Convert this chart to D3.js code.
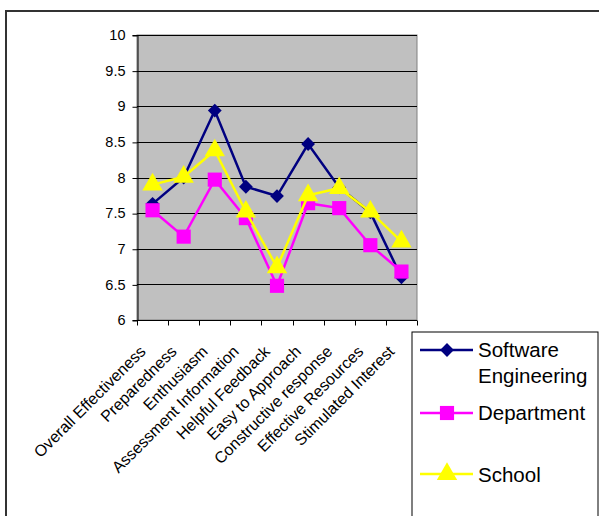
<!DOCTYPE html>
<html><head><meta charset="utf-8">
<script src="https://cdn.jsdelivr.net/npm/d3@7"></script>
<style>body{margin:0;background:#fff}svg{display:block}text{font-family:"Liberation Sans",Arial,sans-serif}</style>
</head><body><svg id="c" width="599" height="516"></svg>
<script>
const categories = ["Overall Effectiveness","Preparedness","Enthusiasm","Assessment Information","Helpful Feedback","Easy to Approach","Constructive response","Effective Resources","Stimulated Interest"];
const softwareEngineering = [7.63, 8.0, 8.94, 7.87, 7.74, 8.47, 7.86, 7.51, 6.60];
const department = [7.54, 7.17, 7.97, 7.43, 6.48, 7.64, 7.57, 7.05, 6.68];
const school = [7.90, 8.01, 8.38, 7.52, 6.74, 7.75, 7.85, 7.52, 7.10];
const yTicks = [6, 6.5, 7, 7.5, 8, 8.5, 9, 9.5, 10];
const seriesNames = ["Software Engineering", "Department", "School"];

const svg = d3.select("#c");
const L = 137, R = 417, T = 35, B = 320;
// outer border
svg.append("rect").attr("x",6).attr("y",11).attr("width",620).attr("height",540)
  .attr("fill","#fff").attr("stroke","#333").attr("stroke-width",2);

const x = d3.scaleBand().domain(categories).range([L,R]).padding(0);
const y = d3.scaleLinear().domain([6,10]).range([B,T]);

svg.append("rect").attr("x",L).attr("y",T).attr("width",R-L).attr("height",B-T)
  .attr("fill","#C0C0C0").attr("stroke","#808080").attr("stroke-width",1);

// gridlines
svg.append("g").selectAll("line").data(yTicks.filter(v=>v>6)).join("line")
  .attr("x1",L).attr("x2",R).attr("y1",d=>Math.round(y(d))+0.5).attr("y2",d=>Math.round(y(d))+0.5)
  .attr("stroke","#000").attr("stroke-width",1);

// y axis
const ya = svg.append("g").attr("transform",`translate(${L+0.5},0)`)
  .call(d3.axisLeft(y).tickValues(yTicks).tickSize(5).tickPadding(7).tickFormat(d=>String(d)));
ya.select(".domain").attr("stroke","#000");
ya.selectAll("text").attr("font-size",14.5).attr("fill","#000");
ya.selectAll("line").attr("transform","translate(0,0.5)");

// x axis
const xa = svg.append("g").attr("transform",`translate(0,${B+0.5})`);
xa.append("line").attr("x1",L).attr("x2",R).attr("stroke","#000");
const bounds = categories.map(c=>x(c)).concat([R]);
xa.selectAll("line.tk").data(bounds).join("line").attr("class","tk")
  .attr("x1",d=>Math.round(d)+0.5).attr("x2",d=>Math.round(d)+0.5).attr("y1",0).attr("y2",5).attr("stroke","#000");
xa.selectAll("text").data(categories).join("text")
  .attr("transform",d=>`translate(${x(d)+x.bandwidth()/2-6},${32}) rotate(-45)`)
  .attr("text-anchor","end").attr("font-size",16).attr("fill","#000").text(d=>d);

const cx = d => x(d)+x.bandwidth()/2;
const diamond = {draw(ctx, size){ const r = Math.sqrt(size/2); ctx.moveTo(0,-r); ctx.lineTo(r,0); ctx.lineTo(0,r); ctx.lineTo(-r,0); ctx.closePath(); }};
const series = [
  {name:seriesNames[0], vals:softwareEngineering, color:"#000080", sym:diamond, size:95},
  {name:seriesNames[1], vals:department, color:"#FF00FF", sym:d3.symbolSquare, size:200},
  {name:seriesNames[2], vals:school, color:"#FFFF00", sym:d3.symbolTriangle, size:180}
];
const line = d3.line().x((d,i)=>cx(categories[i])).y(d=>y(d));
series.forEach(s=>{
  const g = svg.append("g");
  g.append("path").attr("d",line(s.vals)).attr("fill","none").attr("stroke",s.color).attr("stroke-width",2.5);
  g.selectAll("path.m").data(s.vals).join("path").attr("class","m")
    .attr("transform",(d,i)=>`translate(${cx(categories[i])},${y(d)})`)
    .attr("d",d3.symbol().type(s.sym).size(s.size)).attr("fill",s.color);
});

// legend
const lg = svg.append("g");
lg.append("rect").attr("x",412).attr("y",332).attr("width",186).attr("height",200)
  .attr("fill","#fff").attr("stroke","#000").attr("stroke-width",1);
const ly = [350, 413, 474];
series.forEach((s,i)=>{
  lg.append("line").attr("x1",420).attr("x2",473).attr("y1",ly[i]).attr("y2",ly[i]).attr("stroke",s.color).attr("stroke-width",2.5);
  lg.append("path").attr("transform",`translate(447,${ly[i]})`).attr("d",d3.symbol().type(s.sym).size(s.size)).attr("fill",s.color);
});
const fs = 20.5;
const t0 = lg.append("text").attr("x",478).attr("y",357).attr("font-size",fs).attr("fill","#000");
t0.append("tspan").attr("x",478).text("Software");
t0.append("tspan").attr("x",478).attr("dy",26).text("Engineering");
lg.append("text").attr("x",478).attr("y",420).attr("font-size",fs).attr("fill","#000").text(seriesNames[1]);
lg.append("text").attr("x",478).attr("y",482).attr("font-size",fs).attr("fill","#000").text(seriesNames[2]);
</script></body></html>
